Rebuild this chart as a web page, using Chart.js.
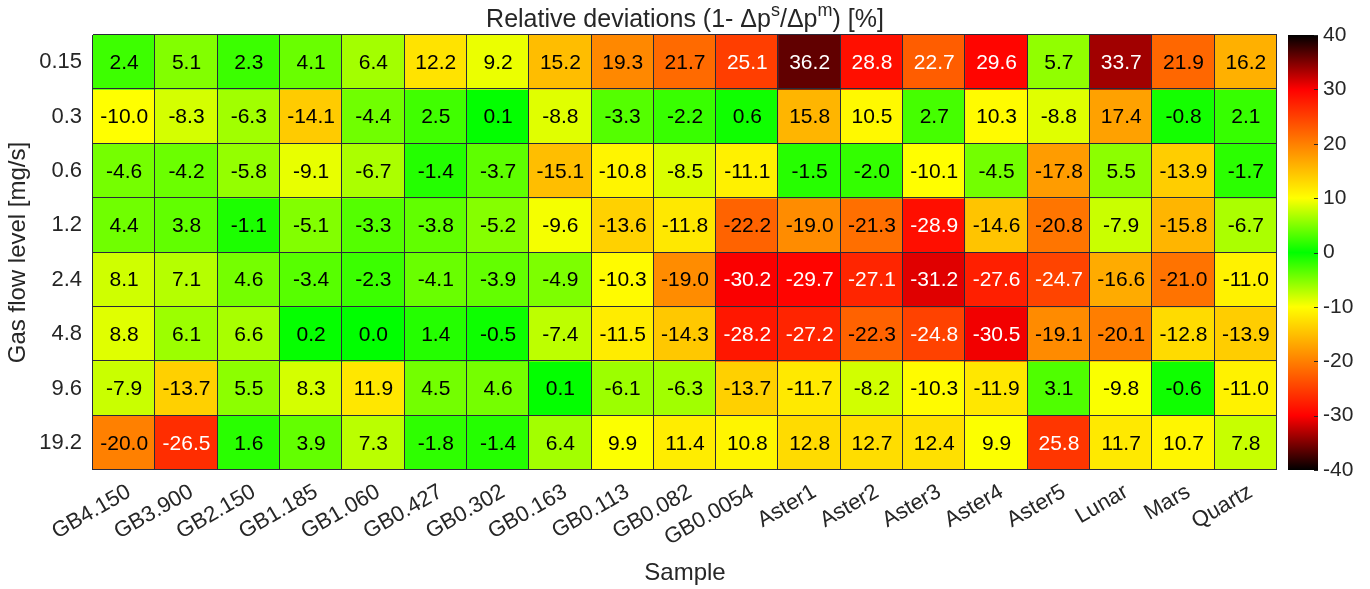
<!DOCTYPE html>
<html><head><meta charset="utf-8">
<script src="https://cdn.jsdelivr.net/npm/chart.js@4.4.1/dist/chart.umd.min.js"></script>
<style>html,body{margin:0;padding:0;background:#fff;overflow:hidden;}</style>
</head><body>
<canvas id="c" width="1370" height="589"></canvas>
<script>
const samples = ['GB4.150','GB3.900','GB2.150','GB1.185','GB1.060','GB0.427','GB0.302','GB0.163','GB0.113','GB0.082','GB0.0054','Aster1','Aster2','Aster3','Aster4','Aster5','Lunar','Mars','Quartz'];
const flowLevels = ['0.15','0.3','0.6','1.2','2.4','4.8','9.6','19.2'];
const row0_15 = [2.4, 5.1, 2.3, 4.1, 6.4, 12.2, 9.2, 15.2, 19.3, 21.7, 25.1, 36.2, 28.8, 22.7, 29.6, 5.7, 33.7, 21.9, 16.2];
const row0_3  = [-10.0, -8.3, -6.3, -14.1, -4.4, 2.5, 0.1, -8.8, -3.3, -2.2, 0.6, 15.8, 10.5, 2.7, 10.3, -8.8, 17.4, -0.8, 2.1];
const row0_6  = [-4.6, -4.2, -5.8, -9.1, -6.7, -1.4, -3.7, -15.1, -10.8, -8.5, -11.1, -1.5, -2.0, -10.1, -4.5, -17.8, 5.5, -13.9, -1.7];
const row1_2  = [4.4, 3.8, -1.1, -5.1, -3.3, -3.8, -5.2, -9.6, -13.6, -11.8, -22.2, -19.0, -21.3, -28.9, -14.6, -20.8, -7.9, -15.8, -6.7];
const row2_4  = [8.1, 7.1, 4.6, -3.4, -2.3, -4.1, -3.9, -4.9, -10.3, -19.0, -30.2, -29.7, -27.1, -31.2, -27.6, -24.7, -16.6, -21.0, -11.0];
const row4_8  = [8.8, 6.1, 6.6, 0.2, 0.0, 1.4, -0.5, -7.4, -11.5, -14.3, -28.2, -27.2, -22.3, -24.8, -30.5, -19.1, -20.1, -12.8, -13.9];
const row9_6  = [-7.9, -13.7, 5.5, 8.3, 11.9, 4.5, 4.6, 0.1, -6.1, -6.3, -13.7, -11.7, -8.2, -10.3, -11.9, 3.1, -9.8, -0.6, -11.0];
const row19_2 = [-20.0, -26.5, 1.6, 3.9, 7.3, -1.8, -1.4, 6.4, 9.9, 11.4, 10.8, 12.8, 12.7, 12.4, 9.9, 25.8, 11.7, 10.7, 7.8];
const deviationRows = [row0_15, row0_3, row0_6, row1_2, row2_4, row4_8, row9_6, row19_2];
const colorbarTicks = [-40,-30,-20,-10,0,10,20,30,40];

const FONT = "'Liberation Sans', Arial, Helvetica, sans-serif";
const TXT = '#262626';

function cmap(v){
  const a = Math.min(Math.abs(v), 40);
  let r, g;
  if (a <= 10) { r = 255*a/10; g = 255; }
  else if (a <= 30) { r = 255; g = 255*(30-a)/20; }
  else { r = 255*(40-a)/10; g = 0; }
  return 'rgb(' + Math.round(r) + ',' + Math.round(g) + ',0)';
}

const datasets = deviationRows.map((vals, i) => ({
  label: flowLevels[i],
  data: samples.map((s, j) => ({ x: s, y: [i, i+1], v: vals[j] })),
  backgroundColor: vals.map(cmap),
  borderWidth: 0,
  grouped: false,
  barPercentage: 1,
  categoryPercentage: 1
}));

function noPad(s) { s.paddingTop = 0; s.paddingBottom = 0; s.paddingLeft = 0; s.paddingRight = 0; }

const heatPlugin = {
  id: 'heat',
  afterDatasetsDraw(chart) {
    const ctx = chart.ctx, ca = chart.chartArea;
    const xs = chart.scales.x, ys = chart.scales.y;
    ctx.save();
    ctx.strokeStyle = '#2a2a3a';
    ctx.lineWidth = 1;
    ctx.beginPath();
    for (let j = 0; j <= samples.length; j++) {
      let px;
      if (j === 0) px = ca.left;
      else if (j === samples.length) px = ca.right;
      else px = (xs.getPixelForTick(j-1) + xs.getPixelForTick(j)) / 2;
      px = Math.round(px) - 0.5;
      ctx.moveTo(px, ca.top); ctx.lineTo(px, ca.bottom);
    }
    for (let k = 0; k <= flowLevels.length; k++) {
      const py = Math.round(ys.getPixelForValue(k)) - 0.5;
      ctx.moveTo(ca.left, py); ctx.lineTo(ca.right, py);
    }
    ctx.stroke();
    ctx.font = '21px ' + FONT;
    ctx.textAlign = 'center';
    ctx.textBaseline = 'middle';
    chart.data.datasets.forEach((ds, i) => {
      const meta = chart.getDatasetMeta(i);
      meta.data.forEach((el, j) => {
        const v = ds.data[j].v;
        ctx.fillStyle = Math.abs(v) > 22.5 ? '#ffffff' : '#000000';
        ctx.fillText(v.toFixed(1), el.x, (el.y + el.base) / 2 + 1);
      });
    });
    ctx.restore();
  },
  afterDraw(chart) {
    const ctx = chart.ctx, ca = chart.chartArea, cb = chart.scales.cb;
    const x0 = ca.right + 11, w = 30;
    const top = cb.getPixelForValue(40), bot = cb.getPixelForValue(-40);
    ctx.save();
    const g = ctx.createLinearGradient(0, bot, 0, top);
    [-40,-30,-10,0,10,30,40].forEach(v => g.addColorStop((v+40)/80, cmap(v)));
    ctx.fillStyle = g;
    ctx.fillRect(x0, top, w, bot - top);
    ctx.strokeStyle = TXT; ctx.lineWidth = 1;
    ctx.beginPath();
    colorbarTicks.forEach(v => {
      const y = Math.round(cb.getPixelForValue(v)) + 0.5;
      ctx.moveTo(x0 + w - 4, y); ctx.lineTo(x0 + w, y);
    });
    ctx.stroke();
    // title with superscripts
    const parts = [['Relative deviations (1- \u0394p',0],['s',1],['/\u0394p',0],['m',1],[') [%]',0]];
    const big = '25px ' + FONT, small = '18px ' + FONT;
    let total = 0;
    parts.forEach(p => { ctx.font = p[1] ? small : big; total += ctx.measureText(p[0]).width; });
    let x = (ca.left + ca.right) / 2 - total / 2;
    ctx.fillStyle = TXT; ctx.textAlign = 'left'; ctx.textBaseline = 'alphabetic';
    parts.forEach(p => {
      ctx.font = p[1] ? small : big;
      ctx.fillText(p[0], x, p[1] ? 16 : 27);
      x += ctx.measureText(p[0]).width;
    });
    ctx.restore();
  }
};

new Chart(document.getElementById('c'), {
  type: 'bar',
  data: { labels: samples, datasets },
  plugins: [heatPlugin],
  options: {
    responsive: false,
    devicePixelRatio: 1,
    animation: false,
    layout: { padding: { top: 35, left: 0, right: 0, bottom: 0 } },
    plugins: { legend: { display: false }, tooltip: { enabled: false }, title: { display: false } },
    scales: {
      x: {
        type: 'category',
        grid: { display: false, drawTicks: false },
        border: { display: false },
        ticks: { autoSkip: false, maxRotation: 30, minRotation: 30, padding: 9, labelOffset: 5, color: TXT, font: { family: FONT, size: 22 } },
        title: { display: true, text: 'Sample', color: TXT, font: { family: FONT, size: 24 }, padding: { top: 4, bottom: 1 } },
        afterFit: s => { s.height = 119; noPad(s); }
      },
      y: {
        type: 'linear',
        reverse: true,
        min: 0, max: 8,
        grid: { display: false, drawTicks: false },
        border: { display: false },
        afterBuildTicks: s => { s.ticks = flowLevels.map((_, i) => ({ value: i + 0.5 })); },
        ticks: { autoSkip: false, padding: 11, color: TXT, font: { family: FONT, size: 22 }, callback: (v, i) => flowLevels[i] },
        title: { display: true, text: 'Gas flow level [mg/s]', color: TXT, font: { family: FONT, size: 24 }, padding: { top: 4, bottom: 4 } },
        afterFit: s => { s.width = 93; noPad(s); }
      },
      cb: {
        type: 'linear',
        position: 'right',
        min: -40, max: 40,
        grid: { display: false, drawTicks: false },
        border: { display: false },
        afterBuildTicks: s => { s.ticks = colorbarTicks.map(v => ({ value: v })); },
        ticks: { padding: 46, color: TXT, font: { family: FONT, size: 21 } },
        afterFit: s => { s.width = 93; noPad(s); }
      }
    }
  }
});
</script>
</body></html>
